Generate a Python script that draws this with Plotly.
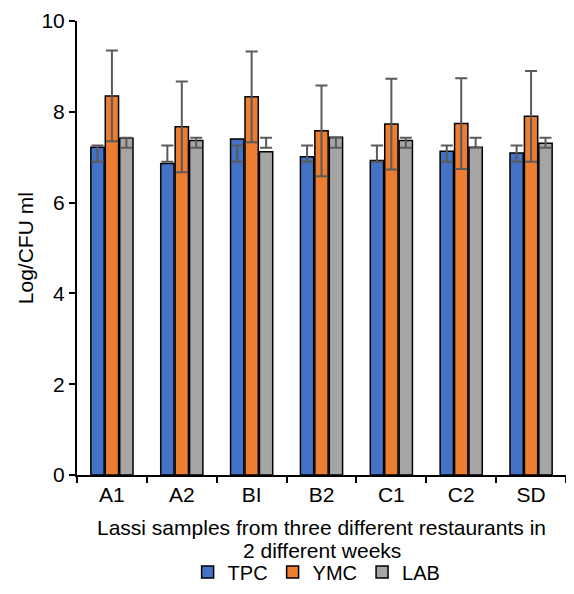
import plotly.graph_objects as go

categories = ["A1", "A2", "BI", "B2", "C1", "C2", "SD"]
tpc = [7.22, 6.86, 7.40, 7.01, 6.93, 7.13, 7.09]
ymc = [8.35, 7.67, 8.33, 7.58, 7.73, 7.74, 7.90]
lab = [7.42, 7.37, 7.12, 7.44, 7.37, 7.22, 7.31]

# error bar extents (lower / upper cap values)
tpc_err_lo = [6.90, 6.90, 6.90, 6.90, 6.90, 6.90, 6.90]
tpc_err_hi = [7.26, 7.26, 7.26, 7.26, 7.26, 7.26, 7.26]
ymc_err = [1.0, 1.0, 1.0, 1.0, 1.0, 1.0, 1.0]
lab_err_lo = [7.21, 7.21, 7.21, 7.21, 7.21, 7.21, 7.21]
lab_err_hi = [7.43, 7.43, 7.43, 7.43, 7.43, 7.43, 7.43]

y_ticks = [0, 2, 4, 6, 8, 10]
x_title_lines = ["Lassi samples from three different restaurants in", "2 different weeks"]

FONT = "Liberation Sans, Arial, sans-serif"
FS = 21
ERR_COLOR = "#5a5a5a"


def err_hi_lo(vals, lo, hi):
    return dict(type="data", symmetric=False,
                array=[h - v for v, h in zip(vals, hi)],
                arrayminus=[v - l for v, l in zip(vals, lo)],
                color=ERR_COLOR, thickness=2, width=6)


fig = go.Figure()
fig.add_trace(go.Bar(name="TPC", x=categories, y=tpc,
                     marker=dict(color="#4472C4", line=dict(color="black", width=1.5)),
                     error_y=err_hi_lo(tpc, tpc_err_lo, tpc_err_hi)))
fig.add_trace(go.Bar(name="YMC", x=categories, y=ymc,
                     marker=dict(color="#ED7D31", line=dict(color="black", width=1.5)),
                     error_y=dict(type="data", array=ymc_err, color=ERR_COLOR,
                                  thickness=2, width=6)))
fig.add_trace(go.Bar(name="LAB", x=categories, y=lab,
                     marker=dict(color="#A5A5A5", line=dict(color="black", width=1.5)),
                     error_y=err_hi_lo(lab, lab_err_lo, lab_err_hi)))

fig.update_layout(
    width=558, height=578,
    margin=dict(l=69, r=0, t=13, b=111, autoexpand=False),
    plot_bgcolor="white", paper_bgcolor="white",
    barmode="group", bargap=0.38, bargroupgap=0.08,
    font=dict(family=FONT, size=FS, color="black"),
    showlegend=True,
    legend=dict(orientation="h", x=0.49, xanchor="center",
                y=-0.2137, yanchor="middle",
                font=dict(size=20), itemwidth=30, traceorder="normal",
                tracegroupgap=0),
)
fig.update_xaxes(
    showline=True, linecolor="black", linewidth=2,
    ticks="outside", tickson="boundaries", ticklen=6, tickcolor="black", tickwidth=1.5,
    showgrid=False, tickfont=dict(size=FS),
)
fig.update_yaxes(
    range=[0, 10], tickvals=y_ticks, showline=True, linecolor="black", linewidth=2,
    ticks="outside", ticklen=6, tickcolor="black", tickwidth=1.5,
    showgrid=False, zeroline=False, tickfont=dict(size=FS),
)
for line_text, ypos in zip(x_title_lines, [-0.1167, -0.1674]):
    fig.add_annotation(text=line_text, xref="paper", yref="paper", x=0.5, y=ypos,
                       yanchor="middle", showarrow=False, font=dict(size=FS))
fig.add_annotation(text="Log/CFU ml", textangle=-90, xref="paper", yref="paper",
                   x=-0.106, y=0.5, xanchor="center", yanchor="middle",
                   showarrow=False, font=dict(size=FS))

fig.write_html("out.html")
